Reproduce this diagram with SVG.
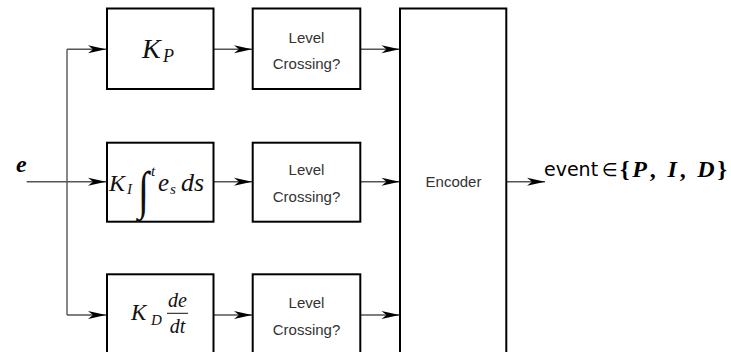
<svg xmlns="http://www.w3.org/2000/svg" width="731" height="352" viewBox="0 0 731 352">
<style>
.box{fill:#fff;stroke:#000;stroke-width:2}
.wire{fill:none;stroke:#555;stroke-width:1.4}
.lc{font-family:"Liberation Sans",Arial,sans-serif;font-size:15px;fill:#333;text-anchor:middle}
.m{font-family:"Liberation Serif","Times New Roman",serif;font-style:italic;fill:#111}
</style>
<defs>
<marker id="ah" viewBox="-19 -5 20 10" refX="0" refY="0" markerWidth="20" markerHeight="10" markerUnits="userSpaceOnUse" orient="auto">
<path d="M0,0 L-18,-4 L-13,0 L-18,4 Z" fill="#000"/>
</marker>
</defs>
<rect width="731" height="352" fill="#fff"/>
<g id="connectors">
<path class="wire" d="M67,49.3 V315"/>
<path class="wire" d="M26.7,181.7 H106" marker-end="url(#ah)"/>
<path class="wire" d="M67,49.3 H106" marker-end="url(#ah)"/>
<path class="wire" d="M67,315 H106" marker-end="url(#ah)"/>
<path class="wire" d="M213.7,49.3 H252" marker-end="url(#ah)"/>
<path class="wire" d="M213.7,181.7 H252" marker-end="url(#ah)"/>
<path class="wire" d="M213.7,315 H252" marker-end="url(#ah)"/>
<path class="wire" d="M360.3,49.3 H399.5" marker-end="url(#ah)"/>
<path class="wire" d="M360.3,181.7 H399.5" marker-end="url(#ah)"/>
<path class="wire" d="M360.3,315 H399.5" marker-end="url(#ah)"/>
<path class="wire" d="M506.3,181.7 H545" marker-end="url(#ah)"/>
</g>
<g id="input">
<text x="16" y="172" font-family="'Liberation Serif',serif" font-weight="bold" font-style="italic" font-size="24">e</text>
</g>
<g id="kp">
<rect class="box" x="107" y="8.5" width="106.5" height="80.5"/>
<text class="m" x="142" y="58" font-size="28">K</text>
<text class="m" x="163" y="62" font-size="18">P</text>
</g>
<g id="ki">
<rect class="box" x="107" y="142.7" width="106.5" height="79"/>
<text class="m" x="109" y="190.5" font-size="24">K</text>
<text class="m" x="127" y="194" font-size="15">I</text>
<text class="m" x="0" y="0" font-size="40" transform="matrix(1,0,0,1.31,138,207.6)">∫</text>
<text class="m" x="151" y="176" font-size="15">t</text>
<text class="m" x="158" y="190.5" font-size="25">e</text>
<text class="m" x="170" y="194" font-size="15">s</text>
<text class="m" x="181" y="190.5" font-size="26">ds</text>
</g>
<g id="kd">
<rect class="box" x="107" y="274.3" width="106.5" height="82"/>
<text class="m" x="131" y="320" font-size="23">K</text>
<text class="m" x="151" y="325" font-size="15">D</text>
<text class="m" x="177.5" y="306.7" font-size="20" text-anchor="middle">de</text>
<line x1="167" y1="313.3" x2="188" y2="313.3" stroke="#111" stroke-width="1"/>
<text class="m" x="177.5" y="333.3" font-size="20" text-anchor="middle">dt</text>
</g>
<g id="lc1">
<rect class="box" x="252.7" y="8.5" width="107.6" height="80.5"/>
<text class="lc" x="306.5" y="43.3">Level</text>
<text class="lc" x="306.5" y="69.3">Crossing?</text>
</g>
<g id="lc2">
<rect class="box" x="252.7" y="142.7" width="107.6" height="79"/>
<text class="lc" x="306.5" y="175">Level</text>
<text class="lc" x="306.5" y="201.7">Crossing?</text>
</g>
<g id="lc3">
<rect class="box" x="252.7" y="274.3" width="107.6" height="82"/>
<text class="lc" x="306.5" y="307.5">Level</text>
<text class="lc" x="306.5" y="335">Crossing?</text>
</g>
<g id="encoder">
<rect class="box" x="400" y="8.5" width="106.3" height="348"/>
<text class="lc" x="453.5" y="187">Encoder</text>
</g>
<g id="output">
<text x="544" y="176" font-family="'DejaVu Sans',sans-serif" font-size="19" fill="#000">event</text>
<text x="602" y="176" font-family="'DejaVu Sans',sans-serif" font-size="18" fill="#000">∈</text>
<text x="620" y="177" font-family="'Liberation Serif',serif" font-weight="bold" font-size="24" fill="#000" textLength="107" lengthAdjust="spacing">{<tspan font-style="italic">P</tspan>, <tspan font-style="italic">I</tspan>, <tspan font-style="italic">D</tspan>}</text>
</g>
</svg>
